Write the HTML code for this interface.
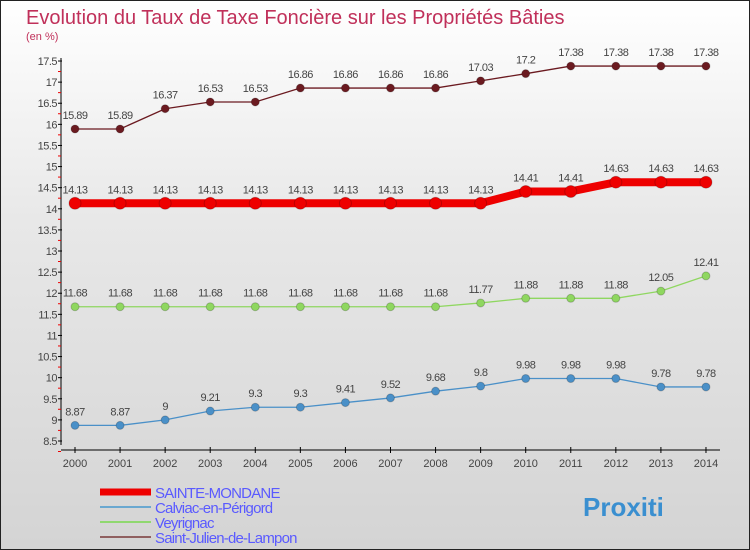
<!DOCTYPE html>
<html><head><meta charset="utf-8"><style>
body{margin:0}
#c{width:750px;height:550px;position:relative;box-sizing:border-box;border:1px solid #222;background:linear-gradient(#fff,#e8e8e8 40%,#d4d4d4);font-family:"Liberation Sans",sans-serif;overflow:hidden}
</style></head><body>
<div id="c">
<svg id="s" width="750" height="550" style="position:absolute;left:-1px;top:-1px">
<text x="26" y="24" font-size="20" fill="#c0305a">Evolution du Taux de Taxe Foncière sur les Propriétés Bâties</text>
<text x="26" y="40" font-size="11" fill="#c0305a">(en %)</text>
</svg>
</div>
<script>
const years=[2000,2001,2002,2003,2004,2005,2006,2007,2008,2009,2010,2011,2012,2013,2014];
const sainteMondane=[14.13,14.13,14.13,14.13,14.13,14.13,14.13,14.13,14.13,14.13,14.41,14.41,14.63,14.63,14.63];
const calviac=[8.87,8.87,9,9.21,9.3,9.3,9.41,9.52,9.68,9.8,9.98,9.98,9.98,9.78,9.78];
const veyrignac=[11.68,11.68,11.68,11.68,11.68,11.68,11.68,11.68,11.68,11.77,11.88,11.88,11.88,12.05,12.41];
const saintJulien=[15.89,15.89,16.37,16.53,16.53,16.86,16.86,16.86,16.86,17.03,17.2,17.38,17.38,17.38,17.38];
const yTicks=[8.5,9,9.5,10,10.5,11,11.5,12,12.5,13,13.5,14,14.5,15,15.5,16,16.5,17,17.5];
const seriesNames=["SAINTE-MONDANE","Calviac-en-Périgord","Veyrignac","Saint-Julien-de-Lampon"];
const NS="http://www.w3.org/2000/svg",s=document.getElementById('s');
const X=i=>75+i*45.07, Y=v=>441-(v-8.5)*42.22;
function el(t,a,p){const e=document.createElementNS(NS,t);for(const k in a)e.setAttribute(k,a[k]);(p||s).appendChild(e);return e;}
let ax=el('line',{x1:61,y1:58,x2:61,y2:445,stroke:'#000'});


let xa=el('line',{x1:61,y1:450,x2:720,y2:450,stroke:'#000'});


yTicks.forEach(v=>{const y=Y(v);
el('line',{x1:58,y1:y,x2:62,y2:y,stroke:'#000'});
el('line',{x1:58,y1:y+10.5,x2:61,y2:y+10.5,stroke:'#e00'});
const t=el('text',{x:57,y:y+4,'font-size':11,'text-anchor':'end',fill:'#444','letter-spacing':'-0.5'});t.textContent=v;

});
years.forEach((yr,i)=>{el('line',{x1:X(i),y1:447,x2:X(i),y2:453,stroke:'#000'});
const t=el('text',{x:X(i),y:467,'font-size':11,'text-anchor':'middle',fill:'#444'});t.textContent=yr;

});
function series(d,col,w,r,name){
const g=el('g',{});


el('polyline',{points:d.map((v,i)=>X(i)+','+Y(v)).join(' '),fill:'none',stroke:col,'stroke-width':w},g);
d.forEach((v,i)=>{const c=el('circle',{cx:X(i),cy:Y(v),r:r,fill:col,stroke:'#0003'},g);


const t=el('text',{x:X(i),y:Y(v)-10,'font-size':11,'text-anchor':'middle',fill:'#444','letter-spacing':'-0.5'},g);t.textContent=v;});}
series(saintJulien,'#6b1a20',1.3,4,'series-saint-julien');
series(veyrignac,'#8fd760',1.3,4,'series-veyrignac');
series(calviac,'#4a90c8',1.3,4,'series-calviac');
series(sainteMondane,'#ee0000',8,6,'series-sainte-mondane');
const lc=['#ee0000','#6aa8d0','#90d870','#906060'],lw=[7,2,2,2];
seriesNames.forEach((n,i)=>{const y=492+i*15;
el('line',{x1:100,y1:y,x2:151,y2:y,stroke:lc[i],'stroke-width':lw[i]});
const t=el('text',{x:155,y:y+6,'font-size':15,fill:'#5a5aff','letter-spacing':'-0.8'});t.textContent=n;

});
const lg=el('text',{x:583,y:516,'font-size':26,'font-weight':'bold',fill:'#3a8fd0'});lg.textContent='Proxiti';


</script>
</body></html>
